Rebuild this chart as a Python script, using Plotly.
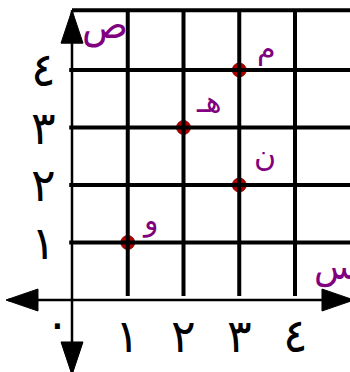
import plotly.graph_objects as go

# points on the grid
point_x = [1, 2, 3, 3]
point_y = [1, 3, 2, 4]
point_labels = ['و', 'هـ', 'ن', 'م']

# tick labels (Arabic-Indic digits)
tick_vals = [1, 2, 3, 4]
tick_text = ['١', '٢', '٣', '٤']
origin_text = '٠'
x_title = 'س'
y_title = 'ص'

grid_vals = [1, 2, 3, 4]
grid_top = 5.04

# label offsets in pixels (dx, dy) for each point label
label_offsets = [(23, 23), (25, 26), (26, 30), (27, 22)]

PURPLE = '#800080'
POINT = '#AE0000'

x_range = [-72 / 55.75, 278 / 55.75]
y_range = [-72 / 57.5, 300 / 57.5]

fig = go.Figure()

shapes = []
# horizontal grid lines
for v in grid_vals:
    shapes.append(dict(type='line', xref='x', yref='y', x0=-0.05, x1=5.3, y0=v, y1=v,
                       line=dict(color='black', width=4)))
# top border
shapes.append(dict(type='line', xref='x', yref='y', x0=0, x1=5.3, y0=grid_top, y1=grid_top,
                   line=dict(color='black', width=4)))
# vertical grid lines
for v in grid_vals:
    shapes.append(dict(type='line', xref='x', yref='y', x0=v, x1=v, y0=0.07, y1=grid_top,
                       line=dict(color='black', width=4)))
# axes
shapes.append(dict(type='line', xref='x', yref='y', x0=0, x1=0, y0=-1.4, y1=grid_top,
                   line=dict(color='black', width=2.5)))
shapes.append(dict(type='line', xref='x', yref='y', x0=-1.15, x1=5.3, y0=0, y1=0,
                   line=dict(color='black', width=2.5)))
# arrow heads (pixel sized, anchored on the axes)
arrow = dict(type='path', xref='x', yref='y', xsizemode='pixel', ysizemode='pixel',
             fillcolor='black', line=dict(color='black', width=1))
shapes.append(dict(arrow, xanchor=0, yanchor=grid_top, path='M 0,0 L 11,-33 L -11,-33 Z'))
shapes.append(dict(arrow, xanchor=0, yanchor=-0.73, path='M -11,0 L 11,0 L 0,-33 Z'))
shapes.append(dict(arrow, xanchor=-1.184, yanchor=0, path='M 0,0 L 32,11 L 32,-11 Z'))
shapes.append(dict(arrow, xanchor=4.484, yanchor=0, path='M 0,11 L 0,-11 L 32,0 Z'))

fig.add_trace(go.Scatter(x=point_x, y=point_y, mode='markers',
                         marker=dict(size=14, color=POINT, line=dict(color='#8A0000', width=0.8)),
                         hoverinfo='skip', showlegend=False))

annotations = []
digit_font = dict(family='DejaVu Sans', size=46, color='black')
for v, t in zip(tick_vals, tick_text):
    annotations.append(dict(x=0, y=v, xref='x', yref='y', text=t, showarrow=False,
                            xshift=-29, yshift=0, font=digit_font))
    annotations.append(dict(x=v, y=0, xref='x', yref='y', text=t, showarrow=False,
                            xshift=0, yshift=-36, font=digit_font))
annotations.append(dict(x=0, y=0, xref='x', yref='y', text=origin_text, showarrow=False,
                        xshift=-15, yshift=-23, font=digit_font))
for x, y, t, (dx, dy) in zip(point_x, point_y, point_labels, label_offsets):
    annotations.append(dict(x=x, y=y, xref='x', yref='y', text=t, showarrow=False,
                            xshift=dx, yshift=dy, font=dict(family='DejaVu Sans', size=30, color=PURPLE)))
annotations.append(dict(x=0, y=grid_top, xref='x', yref='y', text=y_title, showarrow=False,
                        xanchor='left', yanchor='top', xshift=8, yshift=9,
                        font=dict(family='DejaVu Sans', size=38, color=PURPLE)))
annotations.append(dict(x=4.484, y=0, xref='x', yref='y', text=x_title, showarrow=False,
                        xshift=14, yshift=33, xanchor='center', font=dict(family='DejaVu Sans', size=36, color=PURPLE)))

fig.update_layout(
    width=350, height=372,
    margin=dict(l=0, r=0, t=0, b=0),
    paper_bgcolor='white', plot_bgcolor='white',
    xaxis=dict(range=x_range, visible=False, fixedrange=True),
    yaxis=dict(range=y_range, visible=False, fixedrange=True),
    shapes=shapes, annotations=annotations,
    showlegend=False,
)

fig.write_html('out.html', config=dict(displayModeBar=False),
               post_script="document.body.style.margin='0';document.body.style.overflow='hidden';")
